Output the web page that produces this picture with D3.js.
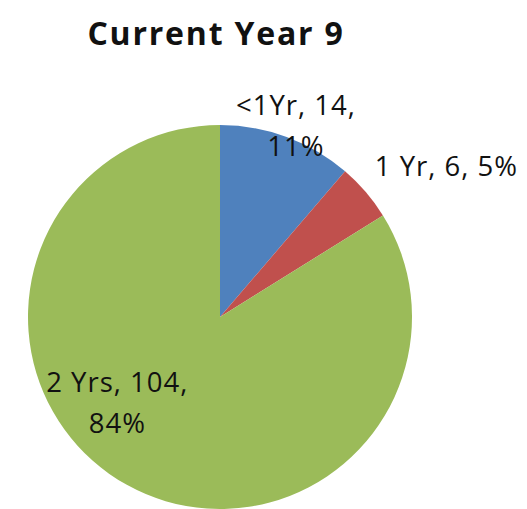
<!DOCTYPE html>
<html>
<head>
<meta charset="utf-8">
<script src="https://cdn.jsdelivr.net/npm/d3@7"></script>
<style>
  body { margin: 0; background: #fff; }
  text { font-family: "Open Sans", "Liberation Sans", sans-serif; fill: #111; }
</style>
</head>
<body>
<svg id="pie"></svg>
<script>
// chart data
const categories = ["<1Yr", "1 Yr", "2 Yrs"];
const counts = [14, 6, 104];
const percents = ["11%", "5%", "84%"];
const colors = ["#4F81BD", "#C0504D", "#9BBB59"];
const title = "Current Year 9";

const width = 527, height = 509;
const cx = 220, cy = 317, radius = 192;

const svg = d3.select("#pie")
    .attr("width", width)
    .attr("height", height);

svg.append("text")
    .attr("x", 216)
    .attr("y", 45)
    .attr("text-anchor", "middle")
    .style("font-size", "32px")
    .style("font-weight", "bold")
    .style("letter-spacing", "1.8px")
    .text(title);

const g = svg.append("g")
    .attr("transform", "translate(" + cx + "," + cy + ")");

const pie = d3.pie().sort(null).value(d => d.count);
const arc = d3.arc().innerRadius(0).outerRadius(radius);

const data = categories.map((c, i) => ({ name: c, count: counts[i], pct: percents[i], color: colors[i] }));
const arcs = pie(data);

g.selectAll(".slice")
    .data(arcs)
    .enter().append("path")
    .attr("class", "slice")
    .attr("d", arc)
    .attr("fill", d => d.data.color);

// label placement (excel "best fit"): angle shift in degrees + distance from centre
const labelPlace = [
    { shift: 1.3, r: 206, lines: d => [d.data.name + ", " + d.data.count + ",", d.data.pct] },
    { shift: 7, r: 272, lines: d => [d.data.name + ", " + d.data.count + ", " + d.data.pct] },
    { shift: 21, r: 134, lines: d => [d.data.name + ", " + d.data.count + ",", d.data.pct] }
];
const lineH = 41;

g.selectAll(".lbl")
    .data(arcs)
    .enter().append("text")
    .attr("class", "lbl")
    .attr("text-anchor", "middle")
    .style("font-size", "27.5px")
    .style("letter-spacing", "1px")
    .each(function (d, i) {
        const p = labelPlace[i];
        const a = (d.startAngle + d.endAngle) / 2 + p.shift * Math.PI / 180;
        const x = Math.sin(a) * p.r;
        const y = -Math.cos(a) * p.r;
        const lines = p.lines(d);
        const t = d3.select(this);
        lines.forEach((l, k) => {
            t.append("tspan")
                .attr("x", x)
                .attr("y", y + (k - (lines.length - 1) / 2) * lineH)
                .attr("dy", "0.35em")
                .text(l);
        });
    });
</script>
</body>
</html>
